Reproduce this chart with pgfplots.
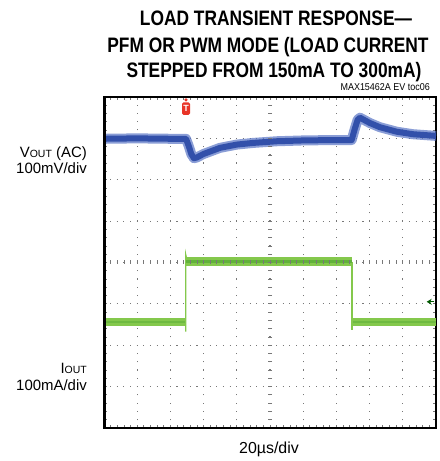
\documentclass[border=0pt]{standalone}
\usepackage{pgfplots}
\pgfplotsset{compat=1.18}
\usepackage{fontspec}
\setmainfont{Liberation Sans}
\newfontfamily\titlefont{Liberation Sans}[FakeStretch=0.83]
\newfontfamily\smallfont{Liberation Sans}[FakeStretch=0.9]
\usetikzlibrary{arrows.meta}

\definecolor{vblue}{RGB}{50,80,170}
\definecolor{vblueout}{RGB}{88,116,196}
\definecolor{igreen}{RGB}{132,200,76}
\definecolor{igreendk}{RGB}{70,160,45}
\definecolor{trigred}{RGB}{232,52,40}
\definecolor{gridgray}{RGB}{120,120,120}

\begin{document}
\begin{tikzpicture}[x=1bp,y=1bp]
\path[use as bounding box] (-104,-33) rectangle (336,428);

% titles
\node[anchor=base, font=\titlefont\bfseries\fontsize{21}{21}\selectfont] at (172,402) {LOAD TRANSIENT RESPONSE—};
\node[anchor=base, font=\titlefont\bfseries\fontsize{21}{21}\selectfont] at (164,375.5) {PFM OR PWM MODE (LOAD CURRENT};
\node[anchor=base, font=\titlefont\bfseries\fontsize{21}{21}\selectfont] at (170,350) {STEPPED FROM 150mA TO 300mA)};
\node[anchor=base east, inner sep=0pt, font=\smallfont\fontsize{10}{10}\selectfont] at (326,337) {MAX15462A EV toc06};

% channel labels
\node[anchor=base east, inner sep=0pt, font=\fontsize{15}{15}\selectfont] at (-17,270) {V{\fontsize{10.5}{10.5}\selectfont OUT} (AC)};
\node[anchor=base east, inner sep=0pt, font=\fontsize{15}{15}\selectfont] at (-17,254) {100mV/div};
\node[anchor=base east, inner sep=0pt, font=\fontsize{15}{15}\selectfont] at (-17,54) {I{\fontsize{10.5}{10.5}\selectfont OUT}};
\node[anchor=base east, inner sep=0pt, font=\fontsize{15}{15}\selectfont] at (-17,37) {100mA/div};
\node[anchor=base, inner sep=0pt, font=\fontsize{16}{16}\selectfont] at (165,-26) {20µs/div};

\begin{axis}[
  at={(0,0)}, anchor=south west,
  scale only axis, width=332bp, height=331bp,
  xmin=0, xmax=10, ymin=-4, ymax=4,
  xtick={0,...,10}, ytick={-4,...,4},
  minor x tick num=4, minor y tick num=4,
  xticklabels={}, yticklabels={},
  tick align=inside,
  major tick length=3bp, minor tick length=3bp,
  tick style={gridgray, line width=0.8bp},
  grid=major,
  x grid style={gridgray, line width=1.1bp, dash pattern=on 1.1bp off 7.18bp, dash phase=0.55bp},
  y grid style={gridgray, line width=1.1bp, dash pattern=on 1.1bp off 5.54bp, dash phase=0.55bp},
  axis line style={black, line width=2bp},
  clip=false,
]

% crosshair ticks
\addplot[only marks, mark=|, mark size=2bp, gridgray, mark options={line width=0.8bp}] coordinates {
(0.2,0)(0.4,0)(0.6,0)(0.8,0)(1,0)(1.2,0)(1.4,0)(1.6,0)(1.8,0)(2,0)
(2.2,0)(2.4,0)(2.6,0)(2.8,0)(3,0)(3.2,0)(3.4,0)(3.6,0)(3.8,0)(4,0)
(4.2,0)(4.4,0)(4.6,0)(4.8,0)(5,0)(5.2,0)(5.4,0)(5.6,0)(5.8,0)(6,0)
(6.2,0)(6.4,0)(6.6,0)(6.8,0)(7,0)(7.2,0)(7.4,0)(7.6,0)(7.8,0)(8,0)
(8.2,0)(8.4,0)(8.6,0)(8.8,0)(9,0)(9.2,0)(9.4,0)(9.6,0)(9.8,0)};
\addplot[only marks, mark=-, mark size=2bp, gridgray, mark options={line width=0.8bp}] coordinates {
(5,-3.8)(5,-3.6)(5,-3.4)(5,-3.2)(5,-3)(5,-2.8)(5,-2.6)(5,-2.4)(5,-2.2)(5,-2)
(5,-1.8)(5,-1.6)(5,-1.4)(5,-1.2)(5,-1)(5,-0.8)(5,-0.6)(5,-0.4)(5,-0.2)(5,0)
(5,0.2)(5,0.4)(5,0.6)(5,0.8)(5,1)(5,1.2)(5,1.4)(5,1.6)(5,1.8)(5,2)
(5,2.2)(5,2.4)(5,2.6)(5,2.8)(5,3)(5,3.2)(5,3.4)(5,3.6)(5,3.8)};

% VOUT (AC)
\addplot[vblueout, line width=10bp, line join=round, opacity=0.7] coordinates {
(0,2.99) (1,3.0) (2,2.99) (2.47,2.99) (2.55,2.82) (2.63,2.62) (2.71,2.52)
(2.8,2.54) (2.99,2.62) (3.49,2.77) (4.0,2.85) (4.49,2.89) (5.2,2.93)
(6,2.95) (7,2.96) (7.46,2.96) (7.55,3.22) (7.64,3.45) (7.71,3.50)
(8.01,3.37) (8.31,3.27) (8.82,3.16) (9.31,3.10) (10,3.06)};
\addplot[vblue, line width=6bp, line join=round] coordinates {
(0,2.99) (1,3.0) (2,2.99) (2.47,2.99) (2.55,2.82) (2.63,2.62) (2.71,2.52)
(2.8,2.54) (2.99,2.62) (3.49,2.77) (4.0,2.85) (4.49,2.89) (5.2,2.93)
(6,2.95) (7,2.96) (7.46,2.96) (7.55,3.22) (7.64,3.45) (7.71,3.50)
(8.01,3.37) (8.31,3.27) (8.82,3.16) (9.31,3.10) (10,3.06)};

% IOUT
\addplot[igreen, line width=1.2bp] coordinates {(2.46,-1.67) (2.46,0.2) (2.5,0.05)};
\addplot[igreen, line width=1.2bp] coordinates {(7.47,0.02) (7.47,-1.62)};
\addplot[igreen, line width=8.5bp] coordinates {(0,-1.44) (2.45,-1.44)};
\addplot[igreen, line width=8.5bp] coordinates {(2.48,0.02) (7.46,0.02)};
\addplot[igreen, line width=8.5bp] coordinates {(7.49,-1.44) (10,-1.44)};
\addplot[igreendk, line width=2.5bp, opacity=0.55] coordinates {(2.48,0.02) (7.46,0.02)};
\addplot[igreendk, line width=2bp, opacity=0.35] coordinates {(0,-1.44) (2.45,-1.44)};
\addplot[igreendk, line width=2bp, opacity=0.35] coordinates {(7.49,-1.44) (10,-1.44)};

% trigger marker and channel reference
\node[fill=trigred, text=white, rounded corners=1.5bp, inner sep=1.2bp, minimum width=8bp, minimum height=12.5bp, font=\bfseries\fontsize{9}{9}\selectfont] at (axis cs:2.47,3.72) {T};
\fill[trigred] (axis cs:2.47,3.93) circle[radius=1.8bp];
\draw[black!65!green, line width=1.3bp, -{Stealth[length=5bp,width=6bp]}] (axis cs:9.95,-0.95) -- (axis cs:9.72,-0.95);

% heavier left edge
\draw[black, line width=3bp] (rel axis cs:0,0) -- (rel axis cs:0,1);
\end{axis}
\end{tikzpicture}
\end{document}
